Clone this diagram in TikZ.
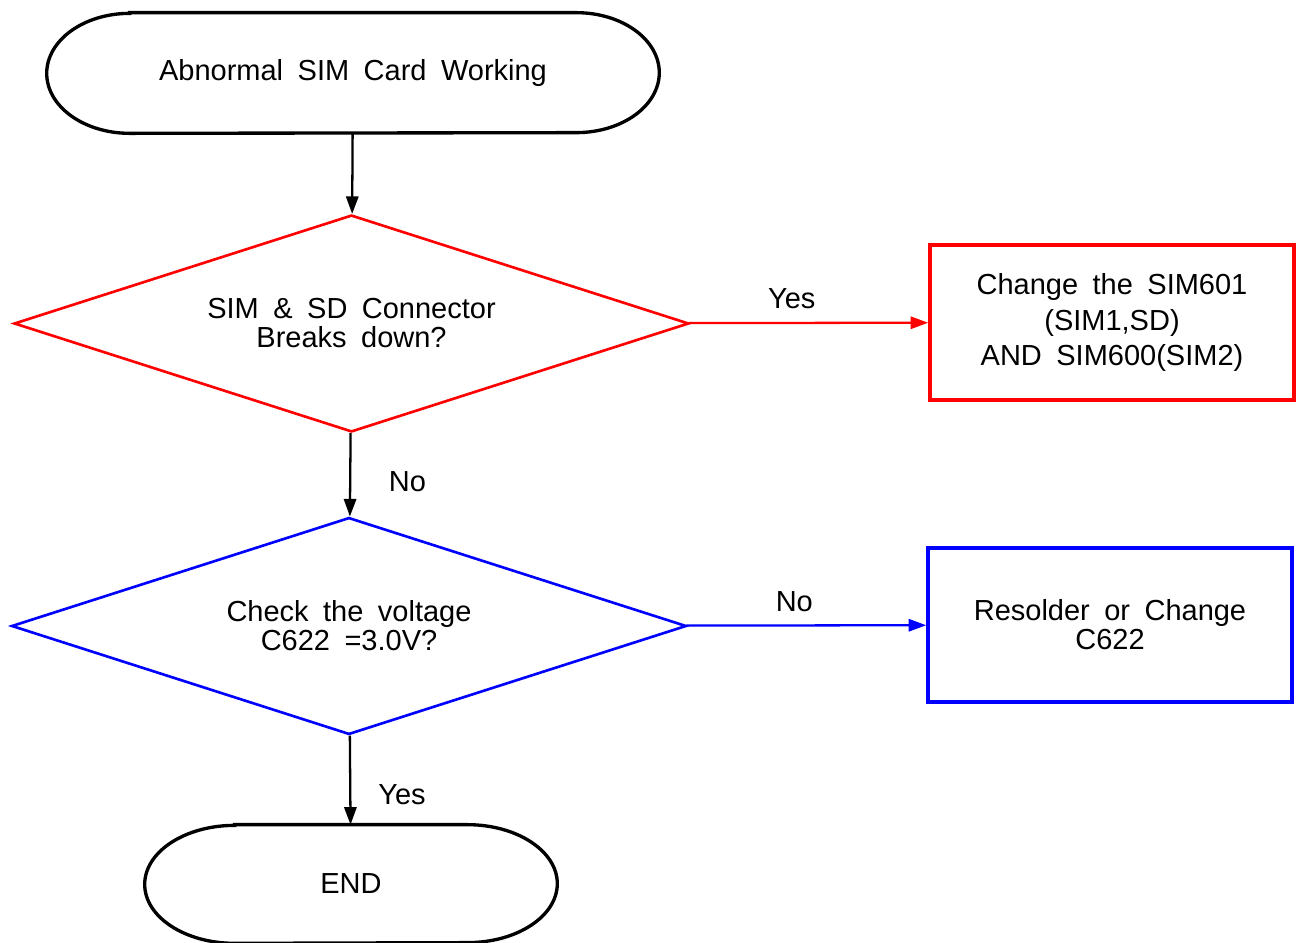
\documentclass[tikz,border=0pt]{standalone}
\usepackage{fontspec}
\setmainfont{Liberation Sans}[WordSpace=1.8]
\usepackage{tikz}
\usetikzlibrary{shapes.geometric,arrows.meta}

\definecolor{qred}{RGB}{255,0,0}
\definecolor{qblue}{RGB}{0,0,255}

\begin{document}
\begin{tikzpicture}[x=0.02cm,y=-0.02cm,
    every node/.style={font=\fontsize{16.5}{16.5}\selectfont},
    term/.style={minimum width=#1, minimum height=2.4cm, inner sep=0pt},
    termline/.style={line width=1.9pt},
    decide/.style={diamond, aspect=3.1, draw=#1, line width=1.5pt, minimum width=13.5cm, minimum height=4.34cm, inner sep=0pt, align=center},
    act/.style={rectangle, draw=#1, line width=2.1pt, minimum width=7.28cm, minimum height=3.1cm, inner sep=0pt, align=center},
    flow/.style={-{Triangle[length=10pt,width=7pt]}, line width=1.3pt}]
    \useasboundingbox (0,0) rectangle (1296,943);

    \node[term=12.24cm] (start) at (353,73) {Abnormal SIM Card Working};
    \node[decide=qred] (conn) at (351.5,323.5) {SIM \& SD Connector\\Breaks down?};
    \node[act=qred, font=\fontsize{16.5}{20}\selectfont] (chsim) at (1112,322.5) {Change the SIM601\\(SIM1,SD)\\AND SIM600(SIM2)};
    \node[decide=qblue] (volt) at (349,626) {Check the voltage\\C622 =3.0V?};
    \node[act=qblue, minimum height=3.08cm] (resold) at (1110,625) {Resolder or Change\\C622};
    \node[term=8.24cm, minimum height=2.36cm] (finish) at (351,884) {END};

    % terminal outlines
    \draw[termline] ([xshift=1.66cm]start.north west) -- ([xshift=-1.66cm]start.north east)
        arc[start angle=90, end angle=-90, x radius=1.66cm, y radius=1.2cm]
        -- ([xshift=1.66cm]start.south west)
        arc[start angle=270, end angle=90, x radius=1.66cm, y radius=1.2cm] -- cycle;
    \draw[termline] ([xshift=1.8cm]finish.north west) -- ([xshift=-1.8cm]finish.north east)
        arc[start angle=90, end angle=-90, x radius=1.8cm, y radius=1.18cm]
        -- ([xshift=1.8cm]finish.south west)
        arc[start angle=270, end angle=90, x radius=1.8cm, y radius=1.18cm] -- cycle;

    \draw[flow] (start) to (conn);
    \draw[flow, qred] (conn) to node[pos=.43, above, yshift=4pt, text=black] {Yes} (chsim);
    \draw[flow] (conn) to node[pos=.58, right=18pt] {No} (volt);
    \draw[flow, qblue] (volt) to node[pos=.45, above, yshift=4pt, text=black] {No} (resold);
    \draw[flow] (volt) to node[pos=.66, right=12pt] {Yes} (finish);
\end{tikzpicture}
\end{document}
